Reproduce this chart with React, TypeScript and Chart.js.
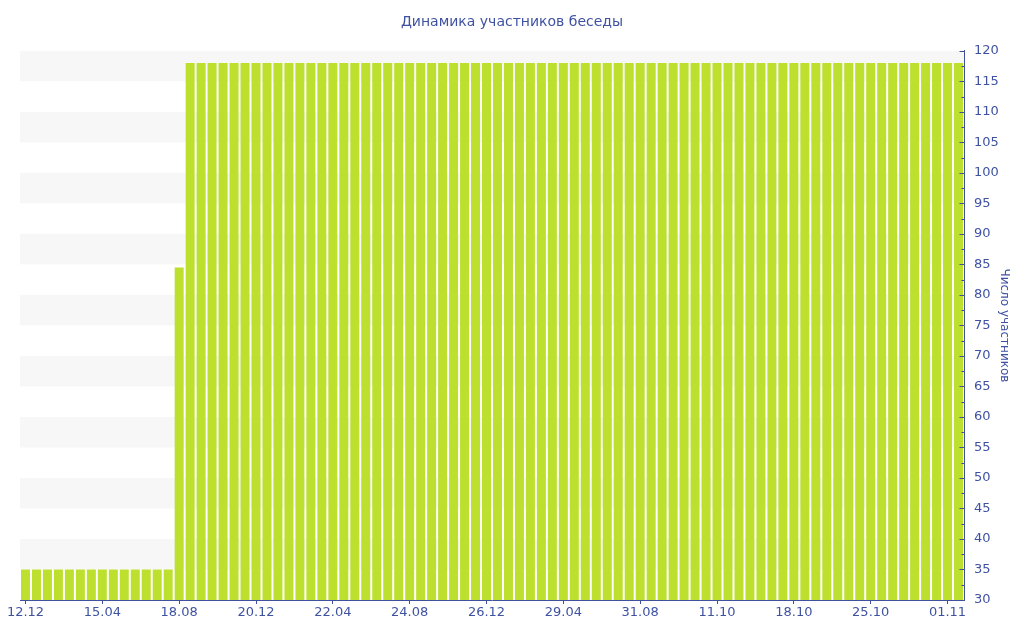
import React, { useEffect, useRef } from 'react';
import { Chart, registerables } from 'chart.js';

Chart.register(...registerables);

const chartTitle = 'Динамика участников беседы';
const yAxisTitle = 'Число участников';

const tickLabels = ['12.12', '15.04', '18.08', '20.12', '22.04', '24.08', '26.12', '29.04', '31.08', '11.10', '18.10', '25.10', '01.11'];

const values = [
  35, 35, 35, 35, 35, 35, 35, 35, 35, 35, 35, 35, 35, 35,
  84.5,
  118, 118, 118, 118, 118, 118, 118, 118, 118, 118,
  118, 118, 118, 118, 118, 118, 118, 118, 118, 118,
  118, 118, 118, 118, 118, 118, 118, 118, 118, 118,
  118, 118, 118, 118, 118, 118, 118, 118, 118, 118,
  118, 118, 118, 118, 118, 118, 118, 118, 118, 118,
  118, 118, 118, 118, 118, 118, 118, 118, 118, 118,
  118, 118, 118, 118, 118, 118, 118, 118, 118, 118,
  118,
];

const yMin = 30;
const yMax = 120;
const yStep = 5;

const FONT = "'DejaVu Sans', Verdana, sans-serif";
const TEXT = '#3f52a2';
const AXIS = '#3f509c';
const BAR = '#bde02f';
const BAND = '#f7f7f7';

const labels = values.map((_, i) => (i % 7 === 0 ? tickLabels[i / 7] ?? '' : ''));

const bandsPlugin = {
  id: 'bands',
  beforeDatasetsDraw(chart: any) {
    const { ctx, chartArea, scales } = chart;
    const y = scales.y;
    ctx.save();
    ctx.fillStyle = BAND;
    for (let v = yMax; v > yMin; v -= 2 * yStep) {
      const top = y.getPixelForValue(v);
      const bottom = y.getPixelForValue(v - yStep);
      ctx.fillRect(chartArea.left, top, chartArea.right - chartArea.left, bottom - top);
    }
    ctx.restore();
  },
  afterDraw(chart: any) {
    const { ctx, chartArea, scales } = chart;
    const y = scales.y;
    ctx.save();
    ctx.strokeStyle = AXIS;
    ctx.lineWidth = 1;
    const x = Math.round(chartArea.right) + 0.5;
    for (let v = yMin; v <= yMax; v += yStep) {
      const py = Math.round(y.getPixelForValue(v)) + 0.5;
      ctx.beginPath();
      ctx.moveTo(x - 5, py);
      ctx.lineTo(x, py);
      ctx.stroke();
      if (v < yMax) {
        const pm = Math.round(y.getPixelForValue(v + yStep / 2)) + 0.5;
        ctx.beginPath();
        ctx.moveTo(x - 3, pm);
        ctx.lineTo(x, pm);
        ctx.stroke();
      }
    }
    ctx.restore();
  },
};

export default function App() {
  const ref = useRef<HTMLCanvasElement | null>(null);

  useEffect(() => {
    if (!ref.current) return;
    const chart = new Chart(ref.current, {
      type: 'bar',
      data: {
        labels,
        datasets: [
          {
            data: values,
            backgroundColor: BAR,
            borderWidth: 0,
            barPercentage: 0.82,
            categoryPercentage: 1,
          },
        ],
      },
      plugins: [bandsPlugin],
      options: {
        responsive: false,
        animation: false,
        layout: { padding: { left: 0, right: 0, top: 0, bottom: 0 } },
        plugins: {
          legend: { display: false },
          tooltip: { enabled: false },
          title: {
            display: true,
            text: chartTitle,
            color: TEXT,
            font: { family: FONT, size: 14, weight: 'normal' },
            padding: { top: 14, bottom: 20 },
          },
        },
        scales: {
          x: {
            offset: true,
            afterBuildTicks(scale: any) {
              scale.ticks = scale.ticks.filter((t: any) => t.value % 7 === 0);
            },
            afterFit(scale: any) {
              scale.height = 40;
              scale.paddingLeft = 20;
              scale.paddingRight = 0;
            },
            ticks: {
              autoSkip: false,
              maxRotation: 0,
              color: TEXT,
              padding: 1,
              font: { family: FONT, size: 13 },
            },
            grid: {
              offset: false,
              drawOnChartArea: false,
              drawTicks: true,
              tickLength: 4,
              color: AXIS,
            },
            border: { display: true, color: AXIS, width: 1 },
          },
          y: {
            position: 'right',
            min: yMin,
            max: yMax,
            afterFit(scale: any) {
              scale.width = 60;
            },
            ticks: {
              stepSize: yStep,
              color: TEXT,
              padding: 2,
              font: { family: FONT, size: 13 },
            },
            grid: { display: false },
            border: { display: true, color: AXIS, width: 1 },
            title: {
              display: true,
              text: yAxisTitle,
              color: TEXT,
              font: { family: FONT, size: 12, weight: 'normal' },
              padding: { top: 13, bottom: 0 },
            },
          },
        },
      },
    } as any);
    return () => chart.destroy();
  }, []);

  return (
    <div style={{ position: 'fixed', left: 0, top: 0, width: 1024, height: 640, background: '#fff' }}>
      <canvas ref={ref} width={1024} height={640} style={{ display: 'block' }} />
    </div>
  );
}
